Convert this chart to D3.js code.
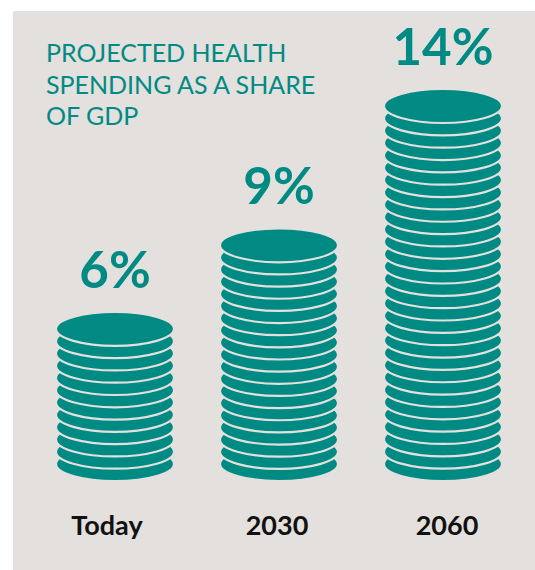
<!DOCTYPE html>
<html><head><meta charset="utf-8">
<script src="https://cdn.jsdelivr.net/npm/d3@7"></script>
<style>html,body{margin:0;padding:0;background:#fff;} svg{display:block}</style>
</head><body>
<svg id="chart" width="535" height="570"></svg>
<script>
// Projected health spending as a share of GDP
const categories = ["Today", "2030", "2060"];
const shares = [6, 9, 14];
const shareLabels = ["6%", "9%", "14%"];
const titleLines = ["PROJECTED HEALTH", "SPENDING AS A SHARE", "OF GDP"];

const W = 535, H = 570;
const teal = "#008a84", panel = "#e3e0dd";
const svg = d3.select("#chart");

svg.append("rect")
  .attr("x", 13).attr("y", 11)
  .attr("width", W - 13).attr("height", H - 11)
  .attr("fill", panel);

// title
svg.append("g").selectAll("text").data(titleLines).join("text")
  .attr("x", 46)
  .attr("y", (d, i) => 62 + i * 31.7)
  .attr("fill", teal)
  .attr("font-family", "Lato, 'Open Sans', sans-serif")
  .attr("font-size", 25)
  .attr("font-weight", 400)
  .text(d => d);

// layout scales
const x = d3.scalePoint().domain(categories).range([115, 443]);
const xLabel = d3.scalePoint().domain(categories).range([107, 447]);
const stackH = d3.scaleLinear().domain([0, 14]).range([0, 390]);
const base = 480;              // bottom edge of every stack
const rx = 58, ry = 16, step = 12.2;

categories.forEach((cat, k) => {
  const v = shares[k];
  const height = stackH(v);
  const top = base - height;
  const n = Math.round((height - 2 * ry) / step) + 1;
  const s = (height - 2 * ry) / (n - 1);
  const coins = d3.range(n).reverse();   // draw bottom coin first
  const g = svg.append("g");
  g.selectAll("ellipse").data(coins).join("ellipse")
    .attr("cx", x(cat))
    .attr("cy", i => top + ry + i * s)
    .attr("rx", rx + 1)
    .attr("ry", ry + 1)
    .attr("fill", teal)
    .attr("stroke", panel)
    .attr("stroke-width", 2.2);

  svg.append("text")
    .attr("x", x(cat))
    .attr("y", top - 25)
    .attr("text-anchor", "middle")
    .attr("fill", teal)
    .attr("font-family", "Lato, 'Open Sans', sans-serif")
    .attr("font-size", 51)
    .attr("font-weight", 700)
    .text(shareLabels[k]);
});

// category axis labels
svg.append("g").selectAll("text").data(categories).join("text")
  .attr("x", d => xLabel(d))
  .attr("y", 535)
  .attr("text-anchor", "middle")
  .attr("fill", "#111")
  .attr("font-family", "Lato, 'Open Sans', sans-serif")
  .attr("font-size", 27)
  .attr("font-weight", 700)
  .text(d => d);
</script>
</body></html>
